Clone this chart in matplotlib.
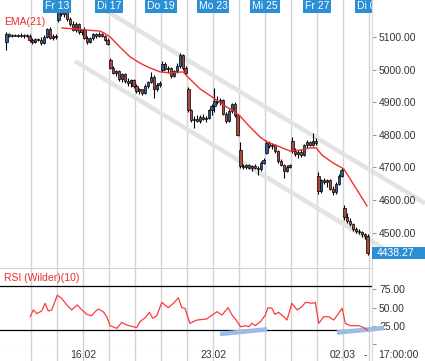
import numpy as np
import matplotlib
matplotlib.use("Agg")
import matplotlib.pyplot as plt
import matplotlib.transforms as mtransforms
from matplotlib.patches import Rectangle

plt.rcParams['font.family'] = ['Liberation Sans', 'DejaVu Sans']

# Hourly candles, 9 per trading day, Wed 11.02 .. Mon 02.03
opens = [
    5085, 5108, 5104, 5106, 5103, 5107, 5102, 5105, 5103,
    5090, 5085, 5093, 5090, 5081, 5100, 5125, 5098, 5104,
    5152, 5196, 5170, 5180, 5155, 5140, 5122, 5140, 5115,
    5120, 5098, 5085, 5097, 5108, 5102, 5110, 5104, 5092,
    5028, 5006, 4990, 4996, 4970, 4985, 4965, 4958, 4968,
    4950, 4935, 4940, 4928, 4950, 4962, 4978, 4940, 4952,
    4998, 5018, 5002, 5005, 4980, 4995, 5012, 5045, 5005,
    4940, 4876, 4845, 4850, 4842, 4855, 4848, 4852, 4875,
    4888, 4905, 4900, 4908, 4865, 4842, 4872, 4895, 4860,
    4753, 4705, 4700, 4706, 4698, 4704, 4699, 4695, 4715,
    4745, 4775, 4765, 4770, 4750, 4720, 4708, 4690, 4702,
    4782, 4750, 4740, 4748, 4738, 4768, 4778, 4770, 4782,
    4675, 4628, 4660, 4655, 4662, 4635, 4625, 4650, 4675,
    4576, 4548, 4535, 4525, 4512, 4506, 4502, 4495, 4490,
]
highs = [
    5115, 5112, 5110, 5110, 5109, 5111, 5108, 5110, 5108,
    5098, 5096, 5098, 5100, 5105, 5128, 5132, 5108, 5110,
    5207, 5200, 5185, 5182, 5160, 5148, 5145, 5142, 5125,
    5130, 5102, 5100, 5112, 5112, 5115, 5113, 5106, 5096,
    5035, 5010, 5000, 4998, 4990, 4990, 4975, 4972, 4970,
    4955, 4945, 4942, 4955, 4966, 4993, 4982, 4958, 4965,
    5025, 5022, 5010, 5008, 4998, 5020, 5051, 5048, 5010,
    4947, 4880, 4858, 4862, 4860, 4865, 4858, 4880, 4895,
    4943, 4918, 4912, 4910, 4870, 4880, 4898, 4900, 4865,
    4778, 4712, 4710, 4712, 4708, 4710, 4705, 4720, 4728,
    4785, 4782, 4775, 4772, 4752, 4725, 4712, 4708, 4712,
    4792, 4760, 4752, 4755, 4772, 4785, 4782, 4806, 4790,
    4686, 4665, 4668, 4665, 4665, 4642, 4655, 4680, 4698,
    4585, 4560, 4545, 4530, 4518, 4510, 4506, 4500, 4495,
]
lows = [
    5060, 5100, 5100, 5102, 5099, 5101, 5098, 5100, 5086,
    5080, 5082, 5088, 5076, 5078, 5096, 5095, 5090, 5095,
    5146, 5165, 5160, 5150, 5135, 5118, 5115, 5110, 5105,
    5095, 5080, 5082, 5092, 5098, 5100, 5100, 5088, 5075,
    5002, 4985, 4980, 4965, 4962, 4960, 4950, 4948, 4945,
    4928, 4926, 4922, 4925, 4945, 4958, 4913, 4935, 4948,
    4992, 4998, 4990, 4975, 4976, 4990, 5005, 5000, 4985,
    4870, 4840, 4821, 4838, 4836, 4845, 4840, 4848, 4860,
    4870, 4895, 4890, 4860, 4836, 4838, 4866, 4855, 4795,
    4698, 4695, 4694, 4696, 4690, 4695, 4677, 4690, 4710,
    4740, 4760, 4755, 4745, 4715, 4705, 4667, 4685, 4698,
    4745, 4735, 4730, 4732, 4735, 4760, 4765, 4766, 4770,
    4620, 4622, 4648, 4640, 4630, 4615, 4620, 4645, 4670,
    4540, 4530, 4520, 4505, 4500, 4496, 4488, 4480, 4432,
]
closes = [
    5108, 5104, 5106, 5103, 5107, 5102, 5105, 5103, 5090,
    5085, 5093, 5090, 5081, 5100, 5125, 5098, 5104, 5100,
    5196, 5170, 5180, 5155, 5140, 5122, 5140, 5115, 5120,
    5098, 5085, 5097, 5108, 5102, 5110, 5104, 5092, 5080,
    5006, 4990, 4996, 4970, 4985, 4965, 4958, 4968, 4950,
    4935, 4940, 4928, 4950, 4962, 4978, 4940, 4952, 4960,
    5018, 5002, 5005, 4980, 4995, 5012, 5045, 5005, 4990,
    4876, 4845, 4850, 4842, 4855, 4848, 4852, 4875, 4888,
    4905, 4900, 4908, 4865, 4842, 4872, 4895, 4860, 4800,
    4705, 4700, 4706, 4698, 4704, 4699, 4695, 4715, 4722,
    4775, 4765, 4770, 4750, 4720, 4708, 4690, 4702, 4708,
    4750, 4740, 4748, 4738, 4768, 4778, 4770, 4782, 4775,
    4628, 4660, 4655, 4662, 4635, 4625, 4650, 4675, 4692,
    4548, 4535, 4525, 4512, 4506, 4502, 4495, 4490, 4438.27,
]
last_price = 4438.27

# EMA(21) (candle index, value)
ema_idx = [19.2, 32.4, 33.8, 35.9, 39.3, 42.8, 46.2, 49.7, 53.2, 56.6, 61.1, 63.5,
           67.0, 71.2, 75.7, 78.1, 80.8, 84.3, 87.8, 90.2, 94.7, 98.2, 101.6, 105.1,
           107.2, 109.2, 113.0, 116.8, 120.7, 124.8]
ema_val = [5128, 5118, 5112, 5100, 5069, 5039, 5020, 5005, 4993, 4990, 4993, 4971,
           4941, 4916, 4888, 4876, 4858, 4824, 4793, 4778, 4763, 4750, 4753, 4760,
           4760, 4738, 4714, 4695, 4640, 4582]

# RSI (Wilder)(10)
rsi_idx = [8.2, 9.3, 10.5, 12.2, 13.4, 14.5, 15.7, 17.6, 19.1, 20.9, 22.6, 24.5, 26.1,
           27.8, 29.5, 30.7, 31.8, 33.5, 34.7, 35.9, 38.2, 39.9, 41.6, 45.1, 46.2, 48.0,
           49.5, 50.6, 52.0, 53.8, 56.0, 57.8, 59.5, 60.7, 61.8, 63.5, 65.9, 69.3, 71.2,
           72.9, 74.6, 76.7, 78.1, 79.5, 81.0, 82.7, 83.9, 85.0, 86.1, 87.9, 89.6, 90.5,
           91.9, 92.9, 94.2, 96.0, 97.1, 98.8, 100.6, 102.3, 103.5, 105.8, 106.9, 108.1,
           109.8, 111.6, 113.3, 116.2, 117.3, 119.0, 121.9, 123.7, 125.0]
rsi_val = [37.7, 47, 42, 45.5, 56, 45.5, 47, 67, 62.8, 53.7, 47, 53.7, 47,
           41, 39, 44.6, 48.2, 44.6, 37.7, 25.5, 21.9, 30, 26.4, 22.8, 31, 36.4,
           43.7, 35.6, 39, 57.3, 50, 56, 63.6, 50, 49.2, 28.7, 33.2, 34.6, 40,
           44.6, 40, 50, 40, 33.2, 24.1, 25.5, 24.1, 28.7, 25.5, 31, 40, 50,
           49.2, 41, 43.7, 37.7, 33.2, 56, 47, 51.4, 57.3, 56, 57.3, 28.7,
           37.7, 37.7, 33.2, 49.2, 28.7, 25.5, 25.5, 22.8, 19.6]

# trend channel and RSI trend lines (index, value)
chan_up_idx = [30.6, 144.9]
chan_up_val = [5201, 4590]
chan_lo_idx = [23.7, 134.6]
chan_lo_val = [5026, 4430]
rsi_tl1_idx = [73.9, 90.2]
rsi_tl1_val = [14.2, 20.6]
rsi_tl2_idx = [114.4, 130.7]
rsi_tl2_val = [16.2, 22.3]

day_labels = ["Fr 13", "Di 17", "Do 19", "Mo 23", "Mi 25", "Fr 27", "Di 03"]
day_label_days = [2, 4, 6, 8, 10, 12, 14]
date_labels = ["16.02", "23.02", "02.03"]
date_label_days = [3, 8, 13]
per_day = 9
n_days = 14

W, H = 425, 361
fig = plt.figure(figsize=(W / 100, H / 100), dpi=100)
fig.patch.set_facecolor("white")
plot_w = 372 / W
ax = fig.add_axes([0, (H - 268) / H, plot_w, 268 / H])
ax_rsi = fig.add_axes([0, 13 / H, plot_w, 80 / H])
ax_str = fig.add_axes([0, 0, plot_w, 13 / H])

xlim = (-2.23, 126.53)
grid_x = [d * per_day - 0.5 for d in range(1, n_days + 1)]
for a in (ax, ax_rsi, ax_str):
    a.set_xlim(*xlim)
    a.set_xticks([])
    for x in grid_x:
        a.axvline(x, color="#d2d2d2", lw=1.0, zorder=0)
    for s in ("left", "top", "bottom"):
        a.spines[s].set_visible(False)
    a.spines["right"].set_color("#d8d8d8")

# --- main price panel ---
ax.set_ylim(4391.5, 5213.5)
x = np.arange(len(closes))
o = np.array(opens, dtype=float)
c = np.array(closes, dtype=float)
up = c >= o
ax.vlines(x, lows, highs, color="black", lw=0.8, zorder=3)
body_lo = np.minimum(o, c)
body_h = np.maximum(np.abs(c - o), 2.0)
ax.bar(x, body_h, bottom=body_lo, width=0.75,
       color=np.where(up, "#2d5f95", "#b0473c"), edgecolor="black", lw=0.5, zorder=4)

ax.plot(chan_up_idx, chan_up_val, color="#e3e3e3", lw=3.3,
        solid_capstyle="butt", zorder=1, clip_on=False)
ax.plot(chan_lo_idx, chan_lo_val, color="#e3e3e3", lw=3.3,
        solid_capstyle="butt", zorder=1, clip_on=False)
ax.plot(ema_idx, ema_val, color="#ee3030", lw=1.0, zorder=5)
ax.text(0.011, 0.918, "EMA(21)", transform=ax.transAxes, color="#ee2a2a",
        fontsize=7.5, va="center", ha="left")

ax.yaxis.tick_right()
ax.set_yticks([4500, 4600, 4700, 4800, 4900, 5000, 5100])
ax.set_yticklabels([f"{v:.2f}" for v in [4500, 4600, 4700, 4800, 4900, 5000, 5100]])
ax.tick_params(axis="y", length=3, width=0.8, color="#999999", pad=2,
               labelsize=7.5, labelcolor="#333333")

for lab, d in zip(day_labels, day_label_days):
    ax.text(d * per_day - 0.5, 5195, lab, ha="center", va="center", color="white",
            fontsize=7.5, clip_on=True, zorder=6,
            bbox=dict(boxstyle="square,pad=0.18", fc="#2b8fd5", ec="none"))

# current price marker on the right scale
trans = mtransforms.blended_transform_factory(fig.transFigure, ax.transData)
ax.add_patch(Rectangle((372 / W, last_price - 19), 53 / W, 38, transform=trans,
                       fc="#2b8fd5", ec="none", clip_on=False, zorder=7))
ax.text(377 / W, last_price, f"{last_price:.2f}", transform=trans,
        ha="left", va="center", color="white", fontsize=7.5, clip_on=False, zorder=8)

# --- RSI panel ---
ax_rsi.set_ylim(-4.9, 104.1)
ax_rsi.spines["top"].set_visible(True)
ax_rsi.spines["bottom"].set_visible(True)
ax_rsi.spines["top"].set_color("#d2d2d2")
ax_rsi.spines["bottom"].set_color("#d2d2d2")
ax_rsi.axhline(80, color="black", lw=0.9, zorder=2)
ax_rsi.axhline(20, color="black", lw=0.9, zorder=2)
ax_rsi.plot(rsi_idx, rsi_val, color="#ff3a3a", lw=0.9, zorder=4)
ax_rsi.plot(rsi_tl1_idx, rsi_tl1_val, color="#9cbce4", lw=3.3,
            solid_capstyle="butt", zorder=3)
ax_rsi.plot(rsi_tl2_idx, rsi_tl2_val, color="#9cbce4", lw=3.3,
            solid_capstyle="butt", zorder=3, clip_on=False)
ax_rsi.text(0.012, 0.875, "RSI (Wilder)(10)", transform=ax_rsi.transAxes,
            color="#ee2a2a", fontsize=7.5, va="center", ha="left")
ax_rsi.yaxis.tick_right()
ax_rsi.set_yticks([0, 25, 50, 75])
ax_rsi.set_yticklabels(["", "25.00", "50.00", "75.00"])
ax_rsi.tick_params(axis="y", length=3, width=0.8, color="#999999", pad=2,
                   labelsize=7.5, labelcolor="#333333")

# --- date strip ---
ax_str.set_ylim(0, 1)
ax_str.set_yticks([])
for lab, d in zip(date_labels, date_label_days):
    ax_str.text(d * per_day - 0.5, 0.45, lab, ha="center", va="center",
                fontsize=7.5, color="#333333")
fig.text(365 / W, 6 / H, "-", ha="center", va="center", fontsize=7.5, color="#333333")
fig.text(378 / W, 6 / H, "17:00:00", ha="left", va="center", fontsize=7.5, color="#333333")

fig.savefig("out.png", dpi=100)
